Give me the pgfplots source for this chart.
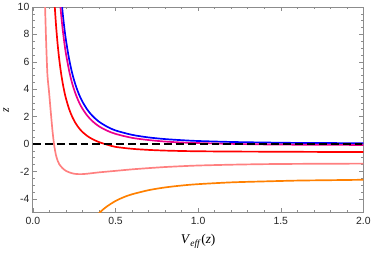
\documentclass[border=0pt]{standalone}
\usepackage{fontspec}
\setmainfont{Liberation Serif}
\newfontfamily\ticksans{Liberation Sans}
\usepackage{pgfplots}
\pgfplotsset{compat=1.18}
\usetikzlibrary{calc}
\definecolor{framegray}{gray}{0.55}
\definecolor{mpink}{rgb}{1,0.5,0.5}
\definecolor{morange}{rgb}{1,0.5,0}
\begin{document}
\begin{tikzpicture}
\begin{axis}[
  scale only axis, width=333pt, height=207pt,
  xmin=0, xmax=2, ymin=-5, ymax=10,
  xtick={0,0.5,1,1.5,2}, ytick={-4,-2,0,2,4,6,8,10},
  minor x tick num=4, minor y tick num=3,
  tick align=inside,
  major tick length=4.5pt, minor tick length=2.5pt,
  every tick/.style={framegray, line width=0.6pt},
  axis line style={framegray, line width=0.8pt},
  ticklabel style={font=\ticksans\fontsize{10.5}{12}\selectfont, text=black!85},
  xticklabel style={yshift=-1pt},
  /pgf/number format/assume math mode=true,
  xticklabel style={/pgf/number format/.cd, fixed, fixed zerofill, precision=1},
  yticklabel style={/pgf/number format/.cd, fixed, precision=0},
  xlabel={\textit{V}\textsubscript{\textit{eff}}(\textit{z})},
  ylabel={\textit{z}},
  every axis x label/.style={at={(axis description cs:0.5,0)}, anchor=center, yshift=-29pt, font=\fontsize{13.5}{15}\selectfont},
  every axis y label/.style={at={(axis description cs:0,0.5)}, anchor=center, xshift=-27pt, rotate=90, font=\fontsize{12}{13}\selectfont},
  clip=true,
]
\addplot[blue, line width=1.7pt, smooth] table {
0.17 10.92
0.18 9.62
0.19 8.53
0.20 7.61
0.22 6.16
0.24 5.07
0.26 4.25
0.28 3.60
0.30 3.09
0.33 2.50
0.36 2.06
0.40 1.63
0.45 1.26
0.50 0.99
0.60 0.67
0.70 0.48
0.80 0.36
0.90 0.28
1.00 0.22
1.20 0.15
1.40 0.11
1.60 0.08
1.80 0.07
2.00 0.05
};
\addplot[magenta, line width=1.7pt, smooth] table {
0.16 11.02
0.17 9.60
0.18 8.42
0.19 7.44
0.20 6.61
0.22 5.31
0.24 4.34
0.26 3.61
0.28 3.03
0.30 2.58
0.33 2.06
0.36 1.67
0.40 1.29
0.45 0.97
0.50 0.74
0.60 0.45
0.70 0.29
0.80 0.18
0.90 0.11
1.00 0.07
1.20 0.01
1.40 -0.03
1.60 -0.05
1.80 -0.06
2.00 -0.07
};
\addplot[red, line width=1.7pt, smooth] table {
0.125 11.63
0.13 10.53
0.14 8.71
0.15 7.28
0.16 6.15
0.17 5.23
0.18 4.48
0.19 3.86
0.20 3.34
0.22 2.53
0.24 1.94
0.26 1.49
0.28 1.15
0.30 0.88
0.33 0.58
0.36 0.36
0.40 0.14
0.45 -0.05
0.50 -0.21
0.60 -0.35
0.70 -0.43
0.80 -0.48
0.90 -0.51
1.00 -0.53
1.20 -0.55
1.40 -0.56
1.60 -0.57
1.80 -0.58
2.00 -0.58
};
\addplot[mpink, line width=1.7pt, smooth] table {
0.071 11.0
0.074 10.0
0.080 7.6
0.088 5.1
0.098 3.8
0.108 2.4
0.119 0.94
0.128 0.0
0.134 -0.45
0.140 -0.82
0.150 -1.22
0.160 -1.48
0.180 -1.77
0.200 -1.96
0.220 -2.07
0.250 -2.17
0.280 -2.20
0.310 -2.19
0.350 -2.14
0.400 -2.07
0.500 -1.96
0.600 -1.85
0.700 -1.76
0.800 -1.68
0.900 -1.62
1.000 -1.57
1.200 -1.51
1.400 -1.47
1.600 -1.45
1.800 -1.44
2.000 -1.43
};
\addplot[morange, line width=1.7pt, smooth] table {
0.40 -5.06
0.42 -4.83
0.45 -4.54
0.50 -4.16
0.55 -3.88
0.60 -3.67
0.70 -3.37
0.80 -3.17
0.90 -3.03
1.00 -2.93
1.20 -2.80
1.40 -2.73
1.60 -2.67
1.80 -2.64
2.00 -2.61
};
\addplot[black, line width=1.8pt, dash pattern=on 8pt off 4pt] table {
0 0
2 0
};
\end{axis}
\path ($(current axis.south west)+(-32pt,-41pt)$) rectangle ($(current axis.north east)+(9pt,5pt)$);
\end{tikzpicture}
\end{document}
